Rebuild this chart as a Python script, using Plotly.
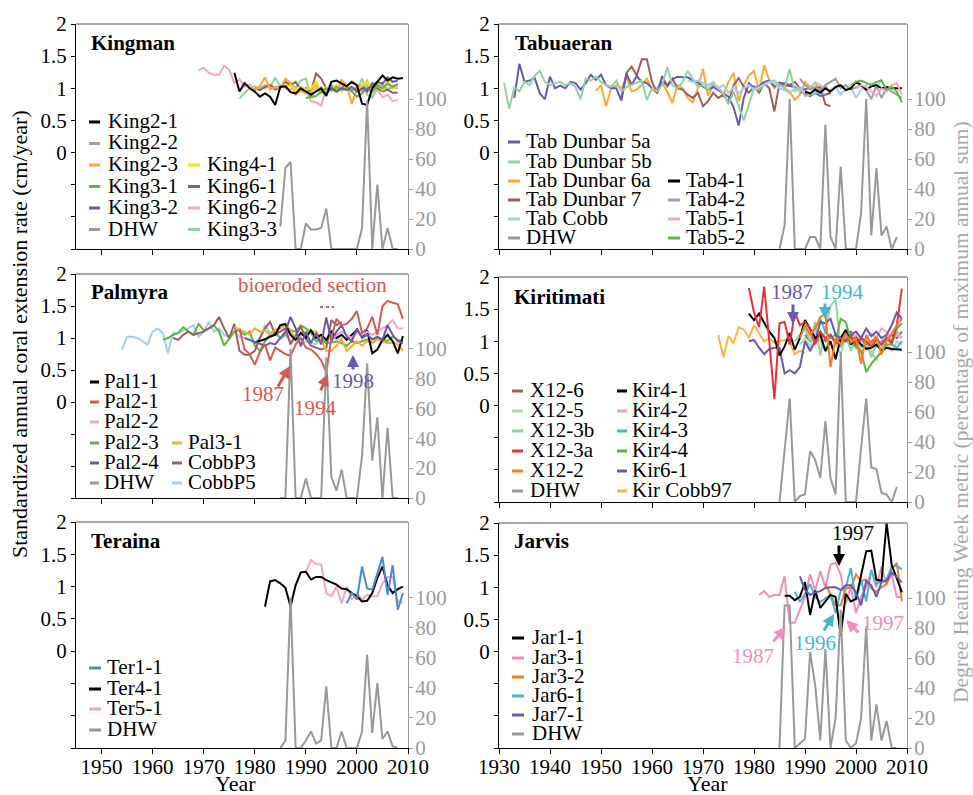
import plotly.graph_objects as go

W, H = 973, 795
FONT = "Liberation Serif, Times New Roman, serif"
FS = 21  # base text size

# ---------------- DATA ----------------
# Kingman (start year, values)
king2_1_start = 1976
king2_1 = [1.24,0.95,1.08,1.0,0.95,0.87,0.92,0.87,0.74,1.02,1.03,0.94,0.92,1.0,0.95,0.9,0.95,1.0,0.88,1.1,
           1.12,1.08,1.03,1.1,1.05,0.76,0.74,1.0,1.1,1.2,1.12,1.17,1.15,1.16]
king2_2_start = 1996
king2_2 = [1.0,0.97,1.02,0.98,1.0,0.95,1.05,0.98,1.0,1.05,0.98,1.02,1.0]
king2_3_start = 1979
king2_3 = [1.0,0.97,1.03,1.17,0.98,1.02,1.0,1.15,1.08,0.9,0.96,0.92,0.95,1.05,0.92,1.0,0.97,0.95,1.13,1.05,
           0.76,0.98,1.02,1.12,0.95,1.05,0.97,1.1,1.0,1.05]
king3_1_start = 1990
king3_1 = [0.85,0.86,0.88,0.95,1.0,0.97,1.02,0.98,1.0,0.95,0.87,0.92,1.0,0.95,1.05,1.0,1.07,1.02,1.07]
king3_2_start = 1993
king3_2 = [0.95,0.92,1.0,0.95,1.0,0.97,1.02,0.95,1.0,0.97,1.05,1.1,1.07,1.17,1.1,1.12]
king3_3_start = 1977
king3_3 = [0.84,0.93,1.0,1.03,1.0,1.05,1.02,1.16,1.03,1.03,1.08,1.0,1.12,1.15,0.86,1.0,1.02,0.95,1.05,1.0,
           0.98,1.02,1.0,0.97,1.15,0.9,0.85,1.0,1.08,0.98,1.05,1.02]
king4_1_start = 1986
king4_1 = [1.0,1.05,0.97,1.03,0.98,1.0,1.1,0.95,1.02,0.98,1.05,0.95,1.05,1.0,0.97,1.05,1.1,0.95,1.12,0.98,1.1,1.0,1.03]
king6_1_start = 1980
king6_1 = [1.0,0.97,1.02,1.05,0.98,1.02,1.1,1.05,1.1,0.98,1.0,0.95,1.23,1.15,1.0,1.02,0.95,1.0,1.05,0.98,
           1.0,1.05,0.95,1.08,1.0,0.95,0.98,0.93,0.93]
king6_2_start = 1969
king6_2 = [1.28,1.32,1.24,1.21,1.21,1.35,1.29,1.08,1.14,1.02,1.06,0.97,1.03,1.0,1.05,1.02,1.04,1.0,0.98,1.02,
           0.96,1.0,0.80,0.78,0.73,0.98,1.02,0.97,1.04,1.0,0.95,1.02,0.98,1.04,0.88,0.98,0.86,0.90,0.80,0.82]
king_dhw_start = 1985
king_dhw = [15,54,58,0,0,17,13,13,14,27,0,0,0,0,0,0,14,99,0,43,0,14,0,0]

# Tabuaeran
tab5a_start = 1933
tab5a = [0.85,1.38,1.1,1.12,1.16,0.92,0.83,1.18,1.0,1.04,1.0,1.1,1.08,0.98,1.08,1.21,1.13,1.21,1.05,1.0,
         1.0,0.81,1.23,1.05,1.19,1.1,1.08,1.0,0.93,1.19,1.03,1.14,1.18,1.17,1.17,1.12,1.09,1.03,0.98,1.02,
         0.97,0.91,0.87,0.7,0.42,0.85,1.08,1.0,1.03,1.1,1.12,1.03,1.09,1.05,1.03,1.02,0.95,0.92,0.88,0.93,
         0.88,0.9,0.93]
tab5b_start = 1931
tab5b = [1.08,0.68,1.02,0.95,1.1,1.05,1.2,1.27,1.1,1.05,1.08,1.1,1.05,1.08,1.02,0.83,1.15,1.12,1.18,1.1,
         1.05,1.02,1.12,0.95,1.02,1.05,1.08,1.12,0.82,1.0,0.95,1.05,1.33,1.05,1.0,1.1,1.27,1.15,1.02,1.05,
         0.98,1.08,1.0,0.92,0.75,0.95,0.72,0.5,0.75,1.0,0.98,1.05,1.1,1.12,1.05,1.0,1.3,0.95,1.02,0.88,
         0.9,0.93,0.95,0.9]
tab6a_start = 1949
tab6a = [0.96,1.05,0.72,1.0,1.05,1.0,1.17,0.95,0.98,1.05,1.15,0.98,1.0,1.08,0.95,0.77,1.05,1.0,0.85,0.78,
         1.0,1.3,0.88,1.05,1.02,0.9,1.1,1.24,0.8,1.05,1.2,1.27,0.95,1.36,1.12,1.0,1.08,1.0,0.95,0.82,
         0.9,1.1,1.02,1.08,0.95,1.05,0.9]
tab7_start = 1954
tab7 = [0.85,1.24,1.34,1.2,1.45,1.45,1.1,0.93,1.1,1.05,1.15,1.0,0.98,0.9,0.85,0.93,0.72,0.8,0.93,0.85,
        0.9,0.78,1.05,1.16,1.02,0.93,1.03,0.93,1.08,1.0,0.64,1.08,1.08,1.05,1.1,1.0,0.98,1.02,1.0,1.02,
        0.75,0.72]
tabcobb_start = 1967
tabcobb = [1.12,1.1,1.12,1.08,1.05,1.1,1.0,1.05,0.93,1.02,0.92,1.0,1.05,0.98,1.02,1.05,1.1,1.08,1.0,0.97,
           0.92,1.0,0.95,1.05,1.0,1.1,1.05,1.0,0.97,1.03,0.9,1.0,1.02,0.85,0.98,1.05,1.08,1.0,1.15]
tab4_1_start = 1990
tab4_1 = [0.95,0.92,0.98,0.93,1.0,0.95,1.02,1.05,0.97,1.0,1.1,1.05,0.98,1.03,1.05,1.0,1.02,1.0,1.0,1.0]
tab4_2_start = 1989
tab4_2 = [1.15,1.05,0.98,1.02,0.95,1.05,1.1,1.15,1.0,1.05,0.98,1.02,1.05,0.97,0.83,1.05,0.85,1.0,0.95,0.9,0.85]
tab5_1_start = 2000
tab5_1 = [1.0,1.05,1.02,0.95,0.88,1.0,0.95,1.05,1.08,0.9]
tab5_2_start = 1999
tab5_2 = [1.05,1.1,1.12,1.08,1.05,1.1,1.12,0.98,1.02,0.95,0.78]
tab_dhw_start = 1985
tab_dhw = [0,16,100,0,0,0,8,8,0,83,8,0,55,0,0,0,24,100,9,54,9,15,0,8]

# Palmyra
pal1_1_start = 1980
pal1_1 = [0.93,0.95,0.98,1.02,1.05,1.2,1.22,1.05,0.97,1.08,1.0,1.12,1.0,1.05,0.97,1.1,1.0,1.05,0.97,1.05,
          1.12,1.02,1.12,0.76,0.82,0.97,1.05,0.95,0.76,1.03]
pal2_1_start = 1977
pal2_1 = [1.15,0.82,0.75,0.58,0.78,0.9,0.65,0.85,0.8,0.75,0.72,0.9,1.0,0.85,0.82,0.75,0.65,0.47,1.0,1.3,
          1.2,1.22,1.3,1.42,1.08,1.15,1.33,1.05,1.5,1.58,1.55,1.53,1.3]
pal2_2_start = 1995
pal2_2 = [0.95,1.05,1.1,1.05,1.0,1.08,1.05,1.1,1.05,1.1,1.15,1.2,1.28,1.15,1.15]
pal2_3_start = 1962
pal2_3 = [0.97,1.0,1.05,1.08,1.17,1.1,1.05,1.22,1.12,1.15,1.2,1.1,0.88,1.0,1.1,1.12,1.05,1.1,0.88,0.8,
          0.95,1.05,1.08,1.0,1.05,1.12,1.1,1.2,1.15,1.08,0.95,1.0,0.92,0.93,0.95,0.92,0.88,0.95,0.92,0.95,
          0.98,0.93,1.0,0.98,0.95,1.02,0.97,0.95]
pal2_4_start = 1978
pal2_4 = [1.0,0.97,0.93,0.9,0.88,0.92,0.9,1.0,1.1,1.33,1.15,0.87,1.1,0.92,1.08,0.9,1.32,0.95,1.1,1.2,
          1.02,0.95,1.15,1.0,1.05,0.98,1.02,0.97,1.2,1.05,0.95,0.92]
pal3_1_start = 1976
pal3_1 = [1.18,1.12,1.1,1.05,1.15,1.1,1.12,1.05,1.13,1.15,1.2,1.12,0.98,1.05,1.08,1.1,1.1,0.98,0.8,0.8,
          0.88,0.98,0.8,0.88,0.95,0.88,0.95,0.92,0.98,0.95,0.92,0.93,0.9,0.8]
cobbp3_start = 1964
cobbp3 = [1.0,0.97,1.05,1.1,1.05,1.08,1.1,1.15,1.2,1.33,1.15,1.0,1.22,0.8,0.74,0.74,0.8,1.0,1.15,1.25,
          1.05,1.1,1.15,0.9,1.05,1.18,1.0,0.88,0.85,0.82,0.85,1.28,1.2,1.25]
cobbp5_start = 1954
cobbp5 = [0.82,1.02,1.02,1.0,0.95,0.9,1.1,1.15,1.08,0.76,1.08,1.07,1.12,1.15,1.2,1.02,1.1,1.25,1.1,1.15,
          1.05,1.02,1.1,1.02,1.0,0.97,0.92,1.0,1.2,1.08,1.12,0.98,1.05,0.95,1.02,0.9,0.95,0.92,0.9,1.0,
          0.92,1.02,0.98,1.0]
pal_dhw_start = 1985
pal_dhw = [0,0,100,0,0,13,0,0,0,94,14,5,19,0,0,0,28,90,25,54,0,47,0,0]

# Kiritimati
x12_6_start = 1990
x12_6 = [1.1,1.0,1.05,1.15,1.0,1.1,0.95,1.0,1.1,1.15,1.0,1.05,0.9,1.0,1.05,0.95,1.05,1.1,1.05,1.15]
x12_5_start = 1989
x12_5 = [0.95,1.05,0.9,1.15,1.0,0.85,1.1,0.95,0.8,1.05,0.9,1.0,0.8,0.95,0.85,0.7,0.9,0.95,0.85,1.0,0.95]
x12_3b_start = 1988
x12_3b = [1.0,1.1,1.2,1.0,1.3,0.78,1.2,1.55,1.65,0.9,1.1,0.85,1.05,0.9,1.0,0.75,0.95,0.85,1.1,1.0,1.15,1.05]
x12_3a_start = 1979
x12_3a = [1.83,1.45,1.22,1.85,1.0,0.1,1.28,1.3,0.95,1.45,1.25,1.3,1.2,0.95,1.15,1.05,1.1,0.98,1.05,1.0,
          1.08,0.95,1.05,1.0,0.92,1.02,0.95,1.05,0.98,1.25,1.82]
x12_2_start = 1989
x12_2 = [1.05,1.25,1.1,1.2,1.38,1.42,0.6,1.05,0.95,1.12,0.98,1.05,0.65,1.1,0.95,1.08,0.8,1.0,1.12,1.25,1.35]
kir4_1_start = 1979
kir4_1 = [1.43,1.33,1.43,1.28,1.15,1.05,0.78,0.92,1.13,0.87,1.05,1.33,1.2,1.05,1.1,0.85,1.0,0.72,1.05,1.18,
          0.95,1.05,0.95,0.88,0.9,0.95,0.85,0.9,0.88,0.87,0.87]
kir4_2_start = 1999
kir4_2 = [1.05,1.1,1.0,1.05,1.12,1.05,1.2,1.15,1.0,1.1,1.05]
kir4_3_start = 1991
kir4_3 = [1.1,1.2,1.35,1.15,1.05,1.1,0.95,1.05,1.0,0.9,1.05,0.95,1.0,0.92,1.0,1.05,0.95,0.9,1.0]
kir4_4_start = 1996
kir4_4 = [1.0,1.35,1.3,1.0,0.92,0.85,0.52,0.65,0.75,0.82,0.95,0.95,1.2,1.28]
kir6_1_start = 1979
kir6_1 = [1.0,1.02,0.9,0.8,0.88,0.9,0.9,0.5,0.55,0.5,0.6,1.0,0.85,1.0,1.3,1.28,1.35,1.1,1.05,1.0,
          1.1,1.15,1.05,1.2,1.08,1.15,1.05,1.1,1.25,1.45,1.35]
kircobb97_start = 1973
kircobb97 = [1.1,0.75,1.08,0.97,1.22,1.18,1.05,1.25,1.12,1.0,1.05,0.98,1.0,1.02,1.0,0.8,0.85,0.82]
kir_dhw_start = 1985
kir_dhw = [0,33,69,0,4,5,34,28,16,54,16,5,100,0,0,0,36,69,23,22,6,5,0,10]

# Teraina
ter1_1_start = 1998
ter1_1 = [0.74,0.9,0.8,1.31,0.97,0.95,1.2,1.46,0.87,1.33,0.64,0.9]
ter4_1_start = 1982
ter4_1 = [0.69,1.08,1.1,1.05,0.98,0.69,1.02,1.22,1.23,1.11,1.15,1.15,1.1,1.06,1.03,0.97,0.96,0.9,0.85,0.77,
          0.78,0.9,1.13,1.31,1.02,0.9,0.96,1.0]
ter5_1_start = 1990
ter5_1 = [1.23,1.41,1.35,1.34,0.9,0.85,1.0,0.74,1.0,0.8,0.9,0.8,0.87,0.85,0.85,1.05,1.15,1.15,0.77,0.75]
ter_dhw_start = 1985
ter_dhw = [0,5,100,0,0,5,11,3,5,41,0,0,11,0,0,0,11,62,10,43,6,11,1,0]

# Jarvis
jar1_1_start = 1986
jar1_1 = [0.87,0.87,0.8,0.85,1.08,0.57,0.95,0.68,0.78,0.88,0.85,0.25,0.9,0.78,0.82,1.2,1.56,1.57,1.12,1.1,
          2.0,1.35,1.15,0.92]
jar3_1_start = 1981
jar3_1 = [0.88,0.94,0.85,0.88,0.88,1.17,0.45,0.45,0.65,0.85,1.2,0.95,1.25,1.0,1.35,1.38,1.2,0.75,1.0,0.6,
          0.85,1.0,1.25,1.0,1.32,1.05,1.2,0.85,0.85]
jar3_2_start = 1994
jar3_2 = [1.05,0.88,0.72,0.72,0.98,1.0,1.2,1.1,1.12,0.98,0.93,1.0,1.05,1.28,1.38,0.78]
jar6_1_start = 1988
jar6_1 = [0.93,0.77,0.9,1.05,0.85,0.77,0.83,0.88,0.6,0.95,1.0,1.3,0.8,1.12,0.78,1.27,1.05,1.1,1.12,1.33,1.33,1.28]
jar7_1_start = 1989
jar7_1 = [1.17,0.96,0.88,0.92,0.94,0.99,1.0,1.0,0.96,1.03,1.03,0.92,0.72,1.1,1.03,0.85,1.08,1.1,1.23,1.15,1.08]
jar_dhw_start = 1985
jar_dhw = [0,95,95,0,3,6,64,42,5,66,0,20,92,5,0,3,20,81,5,29,5,18,0,0]

# tick labels
left_years = [1950, 1960, 1970, 1980, 1990, 2000, 2010]
right_years = [1930, 1940, 1950, 1960, 1970, 1980, 1990, 2000, 2010]
rate_ticks = [-1.5, -1, -0.5, 0, 0.5, 1, 1.5, 2]
rate_labels = ["", "", "", "0", "0.5", "1", "1.5", "2"]
dhw_ticks = [0, 20, 40, 60, 80, 100]

# ---------------- COLOURS ----------------
BLACK = "#000000"; GRAY = "#a0a0a0"; DHWC = "#999999"
ORANGE = "#ffa733"; GREEN = "#5cb83a"; PURPLE = "#6a58b0"; YELLOW = "#f2e400"
BROWN = "#9e5e5e"; PINK = "#f5a3c7"; LGREEN = "#8fd4a0"; LBLUE = "#9fd0f0"
RED = "#d35a55"; BRED = "#e8323a"; DORANGE = "#f57c20"; CYAN = "#45b5d3"
PALEGREEN = "#b2dba8"; BLUE = "#4a8cd0"; HPINK = "#f28cbf"

PANELS = [
    dict(name="Kingman", xr=[1945, 2010], xt=left_years, xd=[76, 408], yd=[24, 249], bottom=False, title=(89, 43),
         series=[("King2-2", king2_2_start, king2_2, GRAY), ("King6-2", king6_2_start, king6_2, PINK),
                 ("King3-3", king3_3_start, king3_3, LGREEN), ("King6-1", king6_1_start, king6_1, BROWN),
                 ("King2-3", king2_3_start, king2_3, ORANGE), ("King4-1", king4_1_start, king4_1, YELLOW),
                 ("King3-1", king3_1_start, king3_1, GREEN), ("King3-2", king3_2_start, king3_2, PURPLE),
                 ("King2-1", king2_1_start, king2_1, BLACK)],
         dhw=(king_dhw_start, king_dhw),
         leg=dict(rows=[121, 142.5, 164, 185.5, 207, 228.5], cols=[(89, 100, 106), (188, 200, 205)],
                  items=[("King2-1", BLACK, 0, 0), ("King2-2", GRAY, 0, 1), ("King2-3", ORANGE, 0, 2),
                         ("King3-1", GREEN, 0, 3), ("King3-2", PURPLE, 0, 4), ("DHW", DHWC, 0, 5),
                         ("King4-1", YELLOW, 1, 2), ("King6-1", BROWN, 1, 3), ("King6-2", PINK, 1, 4),
                         ("King3-3", LGREEN, 1, 5)])),
    dict(name="Tabuaeran", xr=[1930, 2010], xt=right_years, xd=[499, 907], yd=[24, 249], bottom=False, title=(513, 43),
         series=[("Tab Dunbar 6a", tab6a_start, tab6a, ORANGE), ("Tab Dunbar 7", tab7_start, tab7, BROWN),
                 ("Tab Dunbar 5a", tab5a_start, tab5a, PURPLE), ("Tab Dunbar 5b", tab5b_start, tab5b, LGREEN),
                 ("Tab Cobb", tabcobb_start, tabcobb, LBLUE), ("Tab4-2", tab4_2_start, tab4_2, GRAY),
                 ("Tab4-1", tab4_1_start, tab4_1, BLACK), ("Tab5-1", tab5_1_start, tab5_1, PINK),
                 ("Tab5-2", tab5_2_start, tab5_2, GREEN)],
         dhw=(tab_dhw_start, tab_dhw),
         leg=dict(rows=[141, 161, 180, 199, 218, 237], cols=[(508, 520, 524), (668, 680, 684)],
                  items=[("Tab Dunbar 5a", PURPLE, 0, 0), ("Tab Dunbar 5b", LGREEN, 0, 1),
                         ("Tab Dunbar 6a", ORANGE, 0, 2), ("Tab Dunbar 7", BROWN, 0, 3),
                         ("Tab Cobb", LBLUE, 0, 4), ("DHW", DHWC, 0, 5),
                         ("Tab4-1", BLACK, 1, 2), ("Tab4-2", GRAY, 1, 3), ("Tab5-1", PINK, 1, 4),
                         ("Tab5-2", GREEN, 1, 5)])),
    dict(name="Palmyra", xr=[1945, 2010], xt=left_years, xd=[76, 408], yd=[274, 498], bottom=False, title=(89, 292),
         series=[("CobbP5", cobbp5_start, cobbp5, LBLUE), ("Pal2-3", pal2_3_start, pal2_3, GREEN),
                 ("CobbP3", cobbp3_start, cobbp3, BROWN), ("Pal3-1", pal3_1_start, pal3_1, ORANGE),
                 ("Pal1-1", pal1_1_start, pal1_1, BLACK), ("Pal2-2", pal2_2_start, pal2_2, PINK),
                 ("Pal2-4", pal2_4_start, pal2_4, PURPLE), ("Pal2-1", pal2_1_start, pal2_1, RED)],
         dhw=(pal_dhw_start, pal_dhw),
         leg=dict(rows=[381, 401, 421, 442, 462, 482], cols=[(90, 99, 102), (172, 182, 186)],
                  items=[("Pal1-1", BLACK, 0, 0), ("Pal2-1", RED, 0, 1), ("Pal2-2", PINK, 0, 2),
                         ("Pal2-3", GREEN, 0, 3), ("Pal2-4", PURPLE, 0, 4), ("DHW", DHWC, 0, 5),
                         ("Pal3-1", ORANGE, 1, 3), ("CobbP3", BROWN, 1, 4), ("CobbP5", LBLUE, 1, 5)])),
    dict(name="Kiritimati", xr=[1930, 2010], xt=right_years, xd=[499, 907], yd=[277, 502], bottom=False, title=(512, 297),
         series=[("X12-6", x12_6_start, x12_6, BROWN), ("X12-5", x12_5_start, x12_5, PALEGREEN),
                 ("X12-3b", x12_3b_start, x12_3b, LGREEN), ("Kir4-2", kir4_2_start, kir4_2, PINK),
                 ("Kir4-3", kir4_3_start, kir4_3, CYAN), ("Kir4-4", kir4_4_start, kir4_4, GREEN),
                 ("Kir Cobb97", kircobb97_start, kircobb97, "#ffb347"), ("Kir6-1", kir6_1_start, kir6_1, PURPLE),
                 ("Kir4-1", kir4_1_start, kir4_1, BLACK), ("X12-3a", x12_3a_start, x12_3a, BRED),
                 ("X12-2", x12_2_start, x12_2, DORANGE)],
         dhw=(kir_dhw_start, kir_dhw),
         leg=dict(rows=[390, 410, 430, 450, 470, 490], cols=[(512, 523, 528), (617, 627, 630)],
                  items=[("X12-6", BROWN, 0, 0), ("X12-5", PALEGREEN, 0, 1), ("X12-3b", LGREEN, 0, 2),
                         ("X12-3a", BRED, 0, 3), ("X12-2", DORANGE, 0, 4), ("DHW", DHWC, 0, 5),
                         ("Kir4-1", BLACK, 1, 0), ("Kir4-2", PINK, 1, 1), ("Kir4-3", CYAN, 1, 2),
                         ("Kir4-4", GREEN, 1, 3), ("Kir6-1", PURPLE, 1, 4), ("Kir Cobb97", "#ffb347", 1, 5)])),
    dict(name="Teraina", xr=[1945, 2010], xt=left_years, xd=[76, 408], yd=[522, 748], bottom=True, title=(89, 541),
         series=[("Ter5-1", ter5_1_start, ter5_1, PINK), ("Ter4-1", ter4_1_start, ter4_1, BLACK),
                 ("Ter1-1", ter1_1_start, ter1_1, BLUE)],
         dhw=(ter_dhw_start, ter_dhw),
         leg=dict(rows=[667, 688, 708, 729], cols=[(89, 101, 105)],
                  items=[("Ter1-1", BLUE, 0, 0), ("Ter4-1", BLACK, 0, 1), ("Ter5-1", PINK, 0, 2),
                         ("DHW", DHWC, 0, 3)])),
    dict(name="Jarvis", xr=[1930, 2010], xt=right_years, xd=[499, 907], yd=[523, 748], bottom=True, title=(512, 541),
         series=[("Jar3-1", jar3_1_start, jar3_1, HPINK), ("Jar3-2", jar3_2_start, jar3_2, DORANGE),
                 ("Jar6-1", jar6_1_start, jar6_1, CYAN), ("Jar1-1", jar1_1_start, jar1_1, BLACK),
                 ("Jar7-1", jar7_1_start, jar7_1, PURPLE)],
         dhw=(jar_dhw_start, jar_dhw),
         leg=dict(rows=[637, 657, 676, 695, 714, 733], cols=[(512, 524, 530)],
                  items=[("Jar1-1", BLACK, 0, 0), ("Jar3-1", HPINK, 0, 1), ("Jar3-2", DORANGE, 0, 2),
                         ("Jar6-1", CYAN, 0, 3), ("Jar7-1", PURPLE, 0, 4), ("DHW", DHWC, 0, 5)])),
]


def pxx(v):
    return v / W


def pxy(v):
    return 1 - v / H


fig = go.Figure()
layout = dict(width=W, height=H, margin=dict(l=0, r=0, t=0, b=0, pad=0, autoexpand=False),
              paper_bgcolor="white", plot_bgcolor="white", showlegend=False,
              font=dict(family=FONT, size=FS, color="black"))
shapes = []
annotations = []

for i, p in enumerate(PANELS, start=1):
    xkey = "xaxis" if i == 1 else f"xaxis{i}"
    xref = "x" if i == 1 else f"x{i}"
    yl, yr = 2 * i - 1, 2 * i
    ylkey = "yaxis" if yl == 1 else f"yaxis{yl}"
    ylref = "y" if yl == 1 else f"y{yl}"
    yrkey = f"yaxis{yr}"
    yrref = f"y{yr}"
    ydom = [1 - p["yd"][1] / H, 1 - p["yd"][0] / H]
    layout[xkey] = dict(domain=[p["xd"][0] / W, p["xd"][1] / W], range=p["xr"], anchor=ylref,
                        tickmode="array", tickvals=p["xt"], ticks="outside", ticklen=5, tickwidth=1,
                        tickcolor="black", showline=True, linecolor="black", linewidth=1.3,
                        showgrid=False, zeroline=False, showticklabels=p["bottom"], automargin=False,
                        ticklabelstandoff=-5,
                        tickfont=dict(family=FONT, size=FS, color="black"))
    layout[ylkey] = dict(domain=ydom, range=[-1.5, 2], anchor=xref, tickmode="array",
                         tickvals=rate_ticks, ticktext=rate_labels, ticks="outside", ticklen=4,
                         tickcolor="black", showline=True, linecolor="black", linewidth=1.3,
                         showgrid=False, zeroline=False, automargin=False,
                         tickfont=dict(family=FONT, size=FS, color="black"))
    layout[yrkey] = dict(domain=ydom, range=[0, 150], anchor=xref, overlaying=ylref, side="right",
                         tickmode="array", tickvals=dhw_ticks, ticks="outside", ticklen=4,
                         tickcolor="#9a9a9a", showline=True, linecolor="#9a9a9a", linewidth=1.3,
                         showgrid=False, zeroline=False, automargin=False, ticklabelstandoff=-2,
                         tickfont=dict(family=FONT, size=FS, color="#9a9a9a"))
    # top frame line
    shapes.append(dict(type="line", xref=f"{xref} domain", yref=f"{ylref} domain", x0=0, x1=1, y0=1, y1=1,
                       line=dict(color="#8a8a8a", width=1.3)))
    for label, start, vals, col in p["series"]:
        fig.add_trace(go.Scatter(x=list(range(start, start + len(vals))), y=vals, mode="lines", name=label,
                                 line=dict(color=col, width=2), xaxis=xref, yaxis=ylref, hoverinfo="skip"))
    ds, dv = p["dhw"]
    fig.add_trace(go.Scatter(x=list(range(ds, ds + len(dv))), y=dv, mode="lines", name="DHW",
                             line=dict(color=DHWC, width=2), xaxis=xref, yaxis=yrref, hoverinfo="skip"))
    # title
    annotations.append(dict(text=f"<b>{p['name']}</b>", x=pxx(p["title"][0]), y=pxy(p["title"][1]),
                            xref="paper", yref="paper", xanchor="left", yanchor="middle", showarrow=False,
                            font=dict(family=FONT, size=FS, color="black")))
    # legend
    lg = p["leg"]
    for label, col, c, r in lg["items"]:
        sx0, sx1, tx = lg["cols"][c]
        yy = lg["rows"][r]
        shapes.append(dict(type="line", xref="paper", yref="paper", x0=pxx(sx0), x1=pxx(sx1),
                           y0=pxy(yy + 1), y1=pxy(yy + 1), line=dict(color=col, width=3)))
        annotations.append(dict(text=label, x=pxx(tx), y=pxy(yy), xref="paper", yref="paper",
                                xanchor="left", yanchor="middle", showarrow=False,
                                font=dict(family=FONT, size=FS, color="black")))


def center_text(text, cx, cy, size, color, angle=0):
    return dict(text=text, x=pxx(cx), y=pxy(cy), xref="paper", yref="paper", xanchor="center",
                yanchor="middle", showarrow=False, textangle=angle,
                font=dict(family=FONT, size=size, color=color))


# axis titles
annotations.append(center_text("Standardized annual coral extension rate (cm/year)", 19, 334, 22, "black", -90))
annotations.append(center_text("Degree Heating Week metric (percentage of maximum annual sum)", 961, 412, 21.5,
                               "#a8a8a8", -90))
for cx in (235, 707):
    annotations.append(center_text("Year", cx, 783, 22, "black"))

# event labels and arrows (text, colour, text centre, arrow tail, arrow head)
EVENTS = [
    ("1987", RED, (263, 394), (277, 388), (290, 366)),
    ("1994", RED, (315, 408), (320, 392), (328, 374)),
    ("1998", PURPLE, (353, 381), (353, 371), (353, 355)),
    ("1987", PURPLE, (792, 292), (793, 303), (793, 324)),
    ("1994", CYAN, (842, 292), (825, 302), (825, 319)),
    ("1997", BLACK, (853, 533), (839, 544), (839, 566)),
    ("1987", HPINK, (753, 656), (772, 643), (786, 627)),
    ("1996", CYAN, (815, 643), (823, 632), (834, 614)),
    ("1997", HPINK, (883, 623), (860, 634), (846, 620)),
]
for txt, col, (tx, ty), (ax0, ay0), (hx, hy) in EVENTS:
    annotations.append(center_text(txt, tx, ty, 21, col))
    annotations.append(dict(text="", x=pxx(hx), y=pxy(hy), xref="paper", yref="paper", showarrow=True,
                            ax=ax0 - hx, ay=ay0 - hy, arrowhead=2, arrowsize=0.8, arrowwidth=3,
                            arrowcolor=col, standoff=0, startstandoff=0))

annotations.append(center_text("bioeroded section", 312, 285, 21, RED))
shapes.append(dict(type="line", xref="paper", yref="paper", x0=pxx(320), x1=pxx(334), y0=pxy(307), y1=pxy(307),
                   line=dict(color=RED, width=2, dash="dot")))

layout["shapes"] = shapes
layout["annotations"] = annotations
fig.update_layout(**layout)
fig.write_html("out.html", config={"displayModeBar": False},
               post_script="document.body.style.margin='0';document.body.style.overflow='hidden';")
